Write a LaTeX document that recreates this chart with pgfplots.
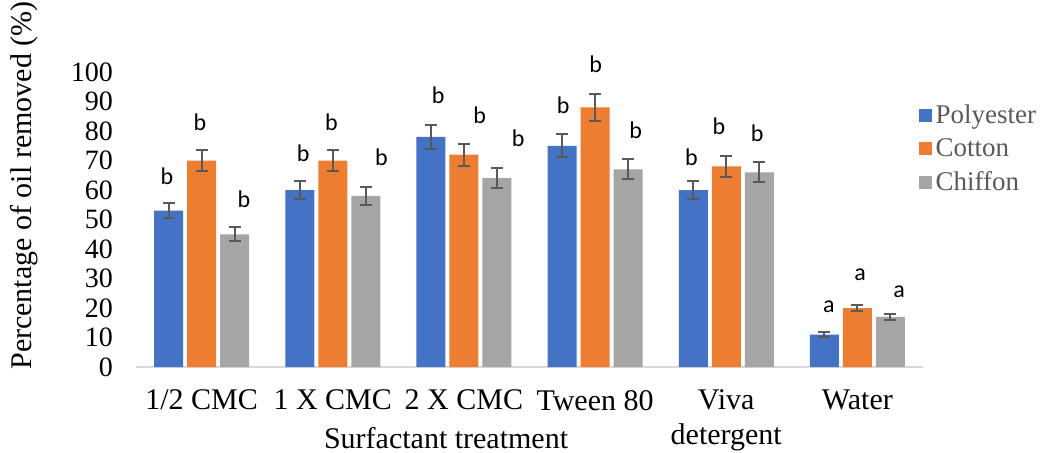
\documentclass[border=0pt]{standalone}
\usepackage{pgfplots}
\pgfplotsset{compat=1.18}
\usepackage{fontspec}
\setmainfont{Liberation Serif}
\newfontfamily\carl{Carlito}
\definecolor{cblue}{RGB}{68,114,196}
\definecolor{corange}{RGB}{237,125,49}
\definecolor{cgray}{RGB}{165,165,165}
\definecolor{errc}{RGB}{89,89,89}
\definecolor{txtgray}{RGB}{89,89,89}
\definecolor{axgray}{RGB}{217,217,217}
\newcommand{\tf}{\fontsize{13.5pt}{16.5pt}\selectfont}
\newcommand{\lf}{\fontsize{15pt}{17.5pt}\selectfont}
\begin{document}
\begin{tikzpicture}
\useasboundingbox (0,0) rectangle (526pt,226pt);
\begin{axis}[
  at={(68pt,42.5pt)}, anchor=south west, scale only axis,
  width=393.5pt, height=147.5pt,
  ybar, bar width=14.5pt,
  xmin=-0.5, xmax=5.5, ymin=0, ymax=100,
  xtick={0,...,5},
  xticklabels={1/2 CMC, 1 X CMC, 2 X CMC, Tween 80, {Viva\\detergent}, Water},
  ytick={0,10,...,100},
  /pgf/number format/assume math mode=true,
  major tick length=0pt,
  axis x line*=bottom, axis y line*=left,
  x axis line style={draw=axgray, line width=1pt},
  y axis line style={draw=none},
  xticklabel style={font=\lf, text=black, align=center, yshift=-8pt},
  yticklabel style={font=\fontsize{14pt}{16pt}\selectfont, text=black, xshift=-8pt},
  xlabel={Surfactant treatment},
  xlabel style={font=\lf, at={(rel axis cs:0.394,0)}, anchor=center, yshift=-35.5pt},
  ylabel={Percentage of oil removed (\%)},
  ylabel style={font=\lf, at={(rel axis cs:-0.142,0.615)}, anchor=center, rotate=0},
  clip=false,
  legend style={at={(rel axis cs:0.994,0.905)}, anchor=north west, draw=none, fill=none,
    font=\tf, text=txtgray, row sep=2pt, inner sep=0pt},
  legend cell align=left,
  legend image code/.code={\fill[#1] (0pt,-3.25pt) rectangle (6.5pt,3.25pt);},
]
\addplot[fill=cblue, draw=none,
  error bars/.cd, y dir=both, y explicit,
  error bar style={line width=1pt, draw=errc},
  error mark options={rotate=90, mark size=3pt, line width=1pt, draw=errc}]
  table[x=x, y=y, y error=e] {
x y e
0 53 2.6
1 60 3.1
2 78 4.0
3 75 3.9
4 60 3.1
5 11 0.7
};
\addplot[fill=corange, draw=none,
  error bars/.cd, y dir=both, y explicit,
  error bar style={line width=1pt, draw=errc},
  error mark options={rotate=90, mark size=3pt, line width=1pt, draw=errc}]
  table[x=x, y=y, y error=e] {
x y e
0 70 3.6
1 70 3.6
2 72 3.7
3 88 4.5
4 68 3.5
5 20 1.1
};
\addplot[fill=cgray, draw=none,
  error bars/.cd, y dir=both, y explicit,
  error bar style={line width=1pt, draw=errc},
  error mark options={rotate=90, mark size=3pt, line width=1pt, draw=errc}]
  table[x=x, y=y, y error=e] {
x y e
0 45 2.4
1 58 3.0
2 64 3.3
3 67 3.4
4 66 3.4
5 17 1.0
};
\legend{Polyester, Cotton, Chiffon}
\begin{scope}[every node/.style={font=\carl\fontsize{12pt}{14pt}\selectfont, anchor=center}]
\node at (axis cs:-0.264,64.5) {b};
\node at (axis cs:-0.013,83.1) {b};
\node at (axis cs:0.322,57) {b};
\node at (axis cs:0.774,72.3) {b};
\node at (axis cs:0.99,83.1) {b};
\node at (axis cs:1.372,71.2) {b};
\node at (axis cs:1.803,92.1) {b};
\node at (axis cs:2.121,85.4) {b};
\node at (axis cs:2.413,77.5) {b};
\node at (axis cs:2.756,88.8) {b};
\node at (axis cs:3.005,102.6) {b};
\node at (axis cs:3.31,80.3) {b};
\node at (axis cs:3.735,71.2) {b};
\node at (axis cs:3.945,81.6) {b};
\node at (axis cs:4.235,79.4) {b};
\node at (axis cs:4.783,20.5) {a};
\node at (axis cs:5.02,31.2) {a};
\node at (axis cs:5.317,25.6) {a};
\end{scope}
\end{axis}
\end{tikzpicture}
\end{document}
